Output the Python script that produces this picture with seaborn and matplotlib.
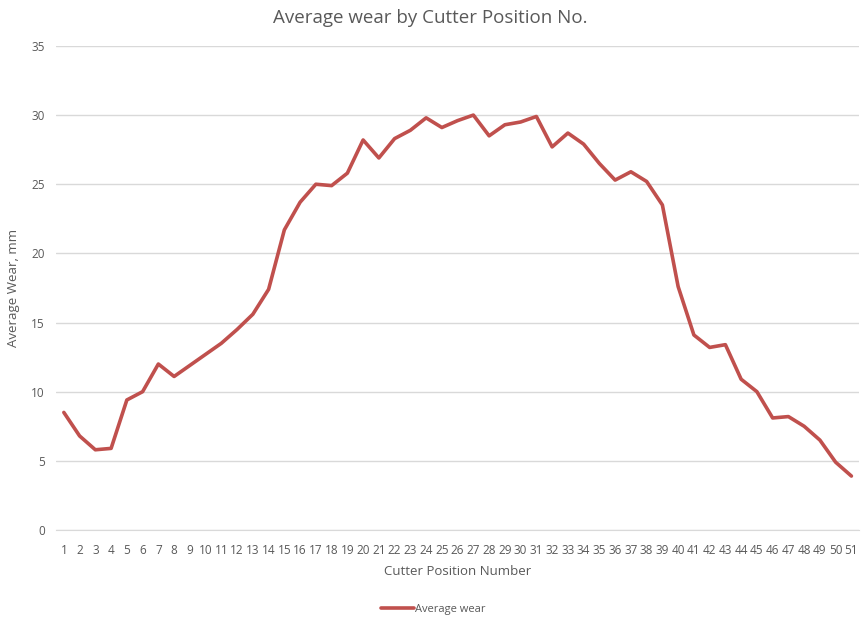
import matplotlib
matplotlib.use('Agg')
import matplotlib.pyplot as plt
import seaborn as sns
import pandas as pd

# 커터 위치 번호와 평균 마모량(mm)
positions = list(range(1, 52))
avg_wear = [8.5, 6.8, 5.8, 5.9, 9.4, 10.0, 12.0, 11.1, 11.9, 12.7,
            13.5, 14.5, 15.6, 17.4, 21.7, 23.7, 25.0, 24.9, 25.8, 28.2,
            26.9, 28.3, 28.9, 29.8, 29.1, 29.6, 30.0, 28.5, 29.3, 29.5,
            29.9, 27.7, 28.7, 27.9, 26.5, 25.3, 25.9, 25.2, 23.5, 17.6,
            14.1, 13.2, 13.4, 10.9, 10.0, 8.1, 8.2, 7.5, 6.5, 4.9, 3.9]
y_ticks = [0, 5, 10, 15, 20, 25, 30, 35]

df = pd.DataFrame({'pos': positions, 'wear': avg_wear})

sns.set_style('white')
plt.rcParams['font.family'] = ['Open Sans', 'DejaVu Sans']
txt = '#595959'

fig = plt.figure(figsize=(8.61, 6.19), dpi=100)
ax = fig.add_axes([0.065, 0.1438, 0.933, 0.782])

sns.lineplot(data=df, x='pos', y='wear', color='#C0504D', linewidth=2.6,
             label='Average wear', ax=ax)

ax.set_xlim(0.5, 51.5)
ax.set_ylim(0, 35)
ax.set_xticks(positions)
ax.set_xticklabels([str(p) for p in positions], fontsize=8.5, color=txt)
ax.set_yticks(y_ticks)
ax.set_yticklabels([str(t) for t in y_ticks], fontsize=8.5, color=txt)
ax.tick_params(axis='x', length=0, pad=10)
ax.tick_params(axis='y', length=0, pad=8)
ax.grid(axis='y', color='#D9D9D9', linewidth=1)
ax.set_axisbelow(True)
for s in ['top', 'right', 'left']:
    ax.spines[s].set_visible(False)
ax.spines['bottom'].set_color('#D9D9D9')

ax.set_xlabel('Cutter Position Number', fontsize=9.5, color=txt, labelpad=6)
ax.set_ylabel('Average Wear, mm', fontsize=9.5, color=txt, labelpad=8)
fig.suptitle('Average wear by Cutter Position No.', fontsize=13.5, color=txt, y=0.985)

ax.legend(loc='center', bbox_to_anchor=(0.47, -0.165), frameon=False,
          fontsize=8, labelcolor=txt, handlelength=3, handletextpad=0.1)

fig.savefig('out.png', dpi=100)
